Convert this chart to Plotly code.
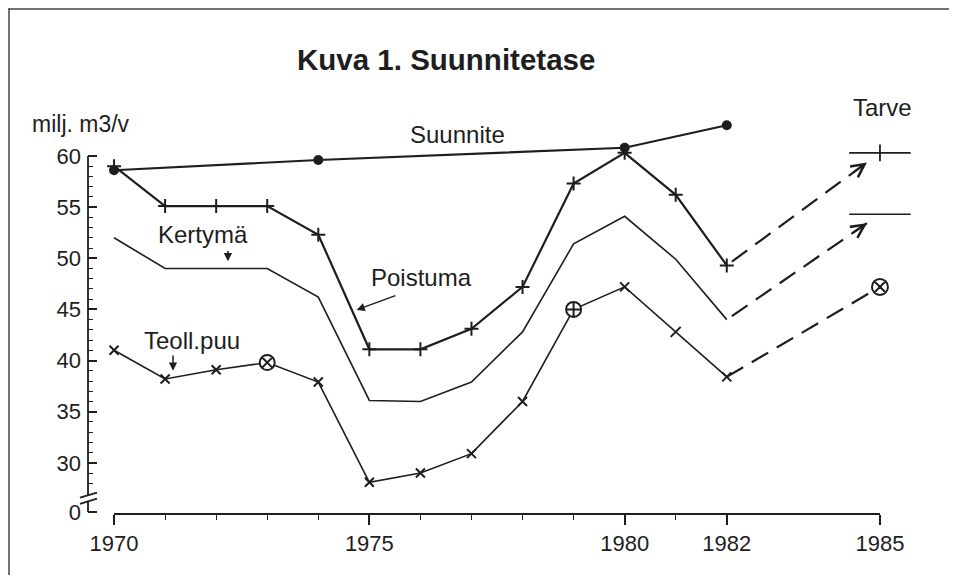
import plotly.graph_objects as go

# ---------------- data ----------------
years = [1970, 1971, 1972, 1973, 1974, 1975, 1976, 1977, 1978, 1979, 1980, 1981, 1982]
suunnite_years = [1970, 1974, 1980, 1982]
suunnite = [58.6, 59.6, 60.8, 63.0]
poistuma = [59.0, 55.1, 55.1, 55.1, 52.3, 41.1, 41.1, 43.1, 47.2, 57.3, 60.3, 56.2, 49.3]
kertyma = [52.0, 49.0, 49.0, 49.0, 46.2, 36.1, 36.0, 37.9, 42.8, 51.4, 54.1, 49.9, 44.0]
teoll = [41.0, 38.2, 39.1, 39.8, 37.9, 28.1, 29.0, 30.9, 36.0, 45.0, 47.2, 42.8, 38.4]
tarve_year = 1985
tarve_poistuma = 60.3
tarve_kertyma = 54.3
tarve_teoll = 47.2

# special marker years on the Teoll.puu line
teoll_circle_x = [1973]
teoll_circle_plus = [1979]
teoll_slash = [1981]

x_major = [1970, 1975, 1980, 1982, 1985]
x_minor = [1971, 1972, 1973, 1974, 1976, 1977, 1978, 1979, 1981]
y_ticks = [30, 35, 40, 45, 50, 55, 60]
y_minor = [v for v in range(28, 60) if v % 5 != 0]

INK = "#1e1e1e"
FONT = "Liberation Sans, Arial, Helvetica, sans-serif"

fig = go.Figure()

# Suunnite
fig.add_trace(go.Scatter(
    x=suunnite_years, y=suunnite, mode="lines+markers",
    line=dict(color=INK, width=2.2),
    marker=dict(symbol="circle", size=10, color=INK),
))

# Poistuma (solid)
fig.add_trace(go.Scatter(
    x=years, y=poistuma, mode="lines+markers",
    line=dict(color=INK, width=2.2),
    marker=dict(symbol="cross-thin", size=10, color=INK,
                line=dict(color=INK, width=2)),
))

# Kertymä (solid)
fig.add_trace(go.Scatter(
    x=years, y=kertyma, mode="lines",
    line=dict(color=INK, width=1.6),
))

# Teoll.puu (solid line)
fig.add_trace(go.Scatter(
    x=years, y=teoll, mode="lines",
    line=dict(color=INK, width=1.6),
))

def subset(sel):
    xs = [yr for yr in years if sel(yr)]
    ys = [v for yr, v in zip(years, teoll) if sel(yr)]
    return xs, ys

special = set(teoll_circle_x + teoll_circle_plus + teoll_slash)
xs, ys = subset(lambda yr: yr not in special)
fig.add_trace(go.Scatter(x=xs, y=ys, mode="markers",
                         marker=dict(symbol="x-thin", size=9, color=INK,
                                     line=dict(color=INK, width=2))))
xs, ys = subset(lambda yr: yr in teoll_slash)
fig.add_trace(go.Scatter(x=xs, y=ys, mode="markers",
                         marker=dict(symbol="line-ne", size=10, color=INK,
                                     line=dict(color=INK, width=2))))
xs, ys = subset(lambda yr: yr in teoll_circle_x)
fig.add_trace(go.Scatter(x=xs, y=ys, mode="markers",
                         marker=dict(symbol="circle-x", size=15, color="white",
                                     line=dict(color=INK, width=2))))
xs, ys = subset(lambda yr: yr in teoll_circle_plus)
fig.add_trace(go.Scatter(x=xs, y=ys, mode="markers",
                         marker=dict(symbol="circle-cross", size=15, color="white",
                                     line=dict(color=INK, width=2))))

# dashed projections 1982 -> 1985
frac = 0.915
def tip(y0, y1):
    return (years[-1] + frac * (tarve_year - years[-1]), y0 + frac * (y1 - y0))

p_tip = tip(poistuma[-1], tarve_poistuma)
k_tip = tip(kertyma[-1], tarve_kertyma)
dash = "19px,10px"
fig.add_trace(go.Scatter(x=[years[-1] + 0.1, p_tip[0]],
                         y=[poistuma[-1] + 0.1 * (tarve_poistuma - poistuma[-1]) / 3, p_tip[1]],
                         mode="lines", line=dict(color=INK, width=2.2, dash=dash)))
fig.add_trace(go.Scatter(x=[years[-1] + 0.1, k_tip[0]],
                         y=[kertyma[-1] + 0.1 * (tarve_kertyma - kertyma[-1]) / 3, k_tip[1]],
                         mode="lines", line=dict(color=INK, width=2.2, dash=dash)))
fig.add_trace(go.Scatter(x=[years[-1], tarve_year], y=[teoll[-1], tarve_teoll],
                         mode="lines", line=dict(color=INK, width=2.2, dash=dash)))

# Tarve markers at 1985
fig.add_trace(go.Scatter(
    x=[tarve_year, tarve_year], y=[tarve_poistuma, tarve_kertyma], mode="markers",
    marker=dict(symbol="line-ew", size=44, color=INK, line=dict(color=INK, width=1.6)),
))
fig.add_trace(go.Scatter(
    x=[tarve_year], y=[tarve_poistuma], mode="markers",
    marker=dict(symbol="line-ns", size=12, color=INK, line=dict(color=INK, width=1.8)),
))
fig.add_trace(go.Scatter(
    x=[tarve_year], y=[tarve_teoll], mode="markers",
    marker=dict(symbol="circle-x", size=16, color="white", line=dict(color=INK, width=2)),
))

# ---------------- annotations ----------------
ann = []
def label(text, x, y, size=24, xref="x", yref="y", xanchor="center"):
    ann.append(dict(text=text, x=x, y=y, xref=xref, yref=yref, showarrow=False,
                    xanchor=xanchor, yanchor="middle",
                    font=dict(family=FONT, size=size, color=INK)))

label("<b>Kuva 1. Suunnitetase</b>", 0.425, 1.138, size=29.5, xref="paper", yref="paper")
label("milj. m3/v", -0.069, 0.977, size=23, xref="paper", yref="paper", xanchor="left")
label("Suunnite", 1976.73, 62.1)
label("Kertymä", 1971.75, 52.3)
label("Poistuma", 1976.03, 48.1)
label("Teoll.puu", 1971.53, 42.0)
label("Tarve", 1985.04, 1.020, yref="paper")

def arrow(x, y, ax, ay, head=2, size=1.0, width=1.5):
    ann.append(dict(text="", x=x, y=y, ax=ax, ay=ay, xref="x", yref="y",
                    axref="x", ayref="y", showarrow=True, arrowhead=head,
                    arrowsize=size, arrowwidth=width, arrowcolor=INK, standoff=0))

arrow(1972.23, 49.7, 1972.23, 50.85, head=2, size=1.1)
arrow(1974.75, 44.95, 1975.54, 46.4, head=2, size=1.1)
arrow(1971.155, 39.0, 1971.155, 40.65, head=2, size=1.1)
# arrowheads of dashed projections
arrow(p_tip[0], p_tip[1], p_tip[0] - 0.3, p_tip[1] - 0.3 * (tarve_poistuma - poistuma[-1]) / 3,
      head=5, size=1.3, width=2)
arrow(k_tip[0], k_tip[1], k_tip[0] - 0.3, k_tip[1] - 0.3 * (tarve_kertyma - kertyma[-1]) / 3,
      head=5, size=1.3, width=2)

# ---------------- shapes (axis lines, break, frame) ----------------
shapes = [
    # x axis line from 1970 to 1985
    dict(type="line", xref="x", yref="paper", x0=1970, x1=1985, y0=0, y1=0,
         line=dict(color=INK, width=1.8)),
    # y axis line (upper part)
    dict(type="line", xref="paper", yref="y", x0=0, x1=0, y0=26.85, y1=60,
         line=dict(color=INK, width=1.8)),
    # y axis lower stub
    dict(type="line", xref="paper", yref="y", x0=0, x1=0, y0=25.2, y1=26.25,
         line=dict(color=INK, width=1.8)),
    # break marks
    dict(type="line", xref="paper", yref="y", xsizemode="pixel", xanchor=0,
         x0=-8, x1=9, y0=26.6, y1=27.1, line=dict(color=INK, width=1.8)),
    dict(type="line", xref="paper", yref="y", xsizemode="pixel", xanchor=0,
         x0=-8, x1=9, y0=26.0, y1=26.5, line=dict(color=INK, width=1.8)),
    # page frame: top and left
    dict(type="line", xref="paper", yref="paper", x0=-0.1, x1=1.05, y0=1.2657, y1=1.2657,
         line=dict(color="#444444", width=1.5)),
    dict(type="line", xref="paper", yref="paper", x0=-0.0938, x1=-0.0938, y0=1.2657, y1=-0.2,
         line=dict(color="#444444", width=1.5)),
]

# page body has an 8px margin; the figure is sized to fit inside the window
fig.update_layout(
    width=941, height=567,
    margin=dict(l=80, r=19, t=107, b=61),
    paper_bgcolor="white", plot_bgcolor="white",
    showlegend=False,
    annotations=ann, shapes=shapes,
    font=dict(family=FONT, color=INK),
    xaxis=dict(
        range=[1969.49, 1985.98], showgrid=False, zeroline=False, showline=False,
        tickmode="array", tickvals=x_major, ticktext=[str(v) for v in x_major],
        ticks="outside", ticklen=10, tickwidth=1.6, tickcolor=INK,
        tickfont=dict(family=FONT, size=22, color=INK),
        ticklabelstandoff=0,
        minor=dict(tickmode="array", tickvals=x_minor, ticks="outside", ticklen=5,
                   tickwidth=1.4, tickcolor=INK, showgrid=False),
    ),
    yaxis=dict(
        range=[25, 64], showgrid=False, zeroline=False, showline=False,
        tickmode="array", tickvals=[25.2] + y_ticks, ticktext=["0"] + [str(v) for v in y_ticks],
        ticks="inside", ticklen=9, tickwidth=1.6, tickcolor=INK,
        tickfont=dict(family=FONT, size=22, color=INK),
        ticklabelstandoff=6,
        minor=dict(tickmode="array", tickvals=y_minor, ticks="inside", ticklen=4.5,
                   tickwidth=1.3, tickcolor=INK, showgrid=False),
    ),
)

fig.write_html("out.html")
